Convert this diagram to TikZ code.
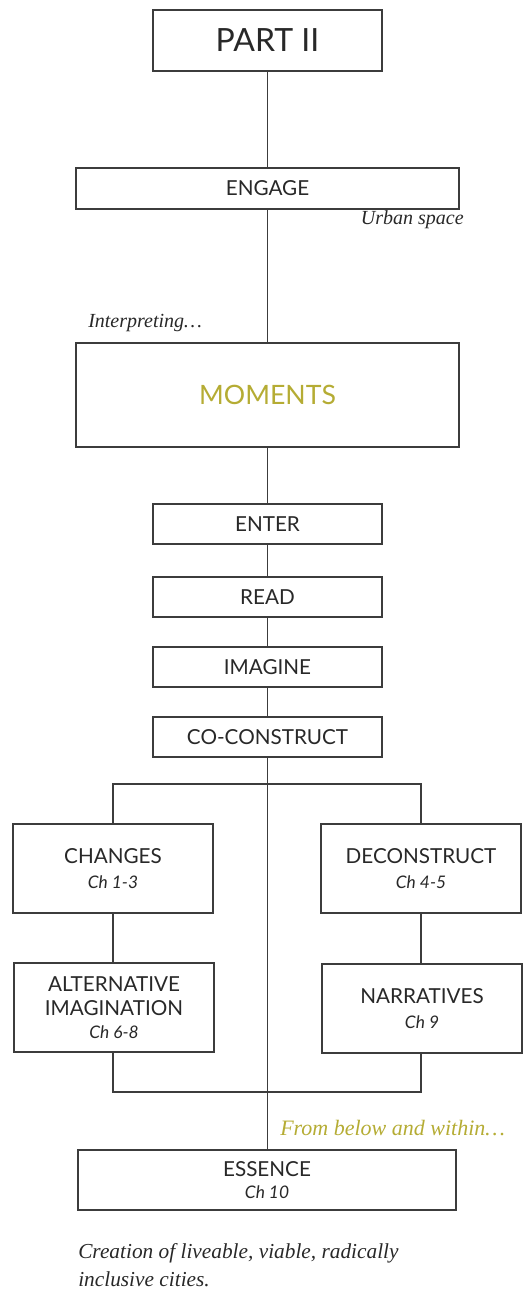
\documentclass[tikz,border=0pt]{standalone}
\usepackage{fontspec}
\setmainfont{Liberation Serif}
\newfontfamily\boxfont{Lato}
\usepackage{xcolor}
\usetikzlibrary{positioning}
\definecolor{chapOlive}{RGB}{181,172,52}
\definecolor{chapText}{RGB}{40,40,40}
\definecolor{chapLine}{RGB}{60,60,60}

\begin{document}
\begin{tikzpicture}[x=0.75pt,y=-0.75pt,
  box/.style={draw=chapLine, line width=0.8pt, text=chapText, align=center,
    font=\boxfont\fontsize{15.5}{18}\selectfont, inner sep=0pt},
  link/.style={draw=chapLine, line width=0.8pt},
  remark/.style={font=\itshape\fontsize{15}{18}\selectfont, text=chapText, inner sep=0pt}]
\useasboundingbox (0,0) rectangle (525,1295);

% main column
\node[box, minimum width=229*0.75pt, minimum height=61*0.75pt,
  font=\boxfont\fontsize{24}{28}\selectfont] (part) at (267.5,40.5) {PART II};
\node[box, minimum width=383*0.75pt, minimum height=41*0.75pt] (engage) at (267.5,188.5) {ENGAGE};
\node[box, minimum width=383*0.75pt, minimum height=104*0.75pt, text=chapOlive,
  font=\boxfont\fontsize{20}{24}\selectfont] (moments) at (267.5,395) {MOMENTS};
\node[box, minimum width=229*0.75pt, minimum height=40*0.75pt] (enter) at (267.5,524) {ENTER};
\node[box, minimum width=229*0.75pt, minimum height=40*0.75pt] (read) at (267.5,597) {READ};
\node[box, minimum width=229*0.75pt, minimum height=40*0.75pt] (imagine) at (267.5,667) {IMAGINE};
\node[box, minimum width=229*0.75pt, minimum height=40*0.75pt] (construct) at (267.5,737) {CO-CONSTRUCT};

% two branches
\node[box, minimum width=200*0.75pt, minimum height=89*0.75pt] (changes) at (113,868.5)
  {CHANGES\\[1pt]{\itshape\fontsize{13}{15}\selectfont Ch 1-3}};
\node[box, minimum width=200*0.75pt, minimum height=89*0.75pt] (deconstruct) at (421,868.5)
  {DECONSTRUCT\\[1pt]{\itshape\fontsize{13}{15}\selectfont Ch 4-5}};
\node[box, minimum width=200*0.75pt, minimum height=89*0.75pt] (alternative) at (114,1007.5)
  {ALTERNATIVE\\IMAGINATION\\[-1pt]{\itshape\fontsize{13}{15}\selectfont Ch 6-8}};
\node[box, minimum width=200*0.75pt, minimum height=89*0.75pt] (narratives) at (422,1008.5)
  {NARRATIVES\\[1pt]{\itshape\fontsize{13}{15}\selectfont Ch 9}};

\node[box, minimum width=378*0.75pt, minimum height=60*0.75pt] (essence) at (267,1180)
  {ESSENCE\\[-1pt]{\itshape\fontsize{13}{15}\selectfont Ch 10}};

\coordinate (split) at (267.5,784);
\coordinate (merge) at (267.5,1092);

% connectors
\draw[link] (part) -- (engage);
\draw[link] (engage) -- (moments);
\draw[link] (moments) -- (enter);
\draw[link] (enter) -- (read);
\draw[link] (read) -- (imagine);
\draw[link] (imagine) -- (construct);
\draw[link] (construct.south) -- (construct.south |- essence.north);
\draw[link] (changes.north) |- (split) -| (deconstruct.north);
\draw[link] (changes) -- (changes |- alternative.north);
\draw[link] (deconstruct) -- (deconstruct |- narratives.north);
\draw[link] (changes |- alternative.south) |- (merge) -| (deconstruct |- narratives.south);

% side remarks
\node[remark, anchor=north east] (urban) at (464,210) {Urban space};
\node[remark, anchor=south west] (interp) at (88,332) {Interpreting\dots};
\node[remark, anchor=south west, text=chapOlive, font=\itshape\fontsize{16.5}{19}\selectfont] (below) at (280,1136) {From below and within\dots};
\node[remark, anchor=north west, align=left, font=\itshape\fontsize{16}{21}\selectfont] (caption) at (78,1243)
  {Creation of liveable, viable, radically\\inclusive cities.};
\end{tikzpicture}
\end{document}
